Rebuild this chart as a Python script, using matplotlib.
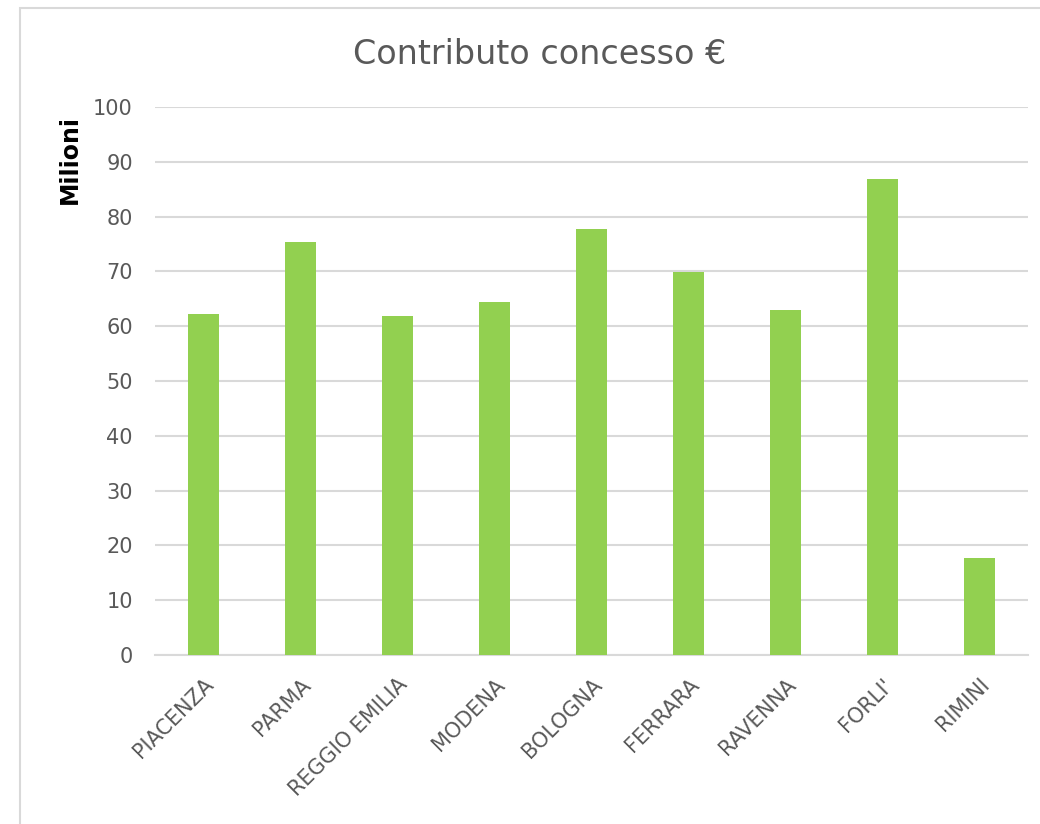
import matplotlib
matplotlib.use("Agg")
import matplotlib.pyplot as plt
from matplotlib.patches import Rectangle

categories = ["PIACENZA", "PARMA", "REGGIO EMILIA", "MODENA", "BOLOGNA",
              "FERRARA", "RAVENNA", "FORLI'", "RIMINI"]
values = [62.2, 75.4, 61.9, 64.4, 77.8, 69.9, 62.9, 86.8, 17.7]
yticks = [0, 10, 20, 30, 40, 50, 60, 70, 80, 90, 100]

plt.rcParams['font.family'] = ['DejaVu Sans']

fig = plt.figure(figsize=(10.4, 8.24), dpi=100)
fig.patch.set_facecolor("white")
# chart border
fig.patches.append(Rectangle((20/1040, -0.1), 1.2, 1.1 - 8/824,
                             transform=fig.transFigure, fill=False,
                             edgecolor="#D9D9D9", linewidth=1.5))

ax = fig.add_axes([155/1040, (824-655)/824, (1028-155)/1040, (655-107)/824])
x = list(range(len(categories)))
ax.bar(x, values, width=0.32, color="#92D050", zorder=3)
ax.set_xlim(-0.5, len(categories) - 0.5)
ax.set_ylim(0, 100)
ax.set_yticks(yticks)
ax.set_yticklabels([str(t) for t in yticks])
ax.set_xticks(x)
ax.set_xticklabels(categories, rotation=45, ha="right", rotation_mode="anchor")
ax.grid(axis="y", color="#D9D9D9", linewidth=1.5, zorder=0)
for s in ["top", "right", "left"]:
    ax.spines[s].set_visible(False)
ax.spines["bottom"].set_color("#D9D9D9")
ax.spines["bottom"].set_linewidth(1.5)
ax.tick_params(axis="both", length=0, labelsize=15, labelcolor="#595959")
ax.tick_params(axis="y", pad=16)
ax.tick_params(axis="x", pad=14)

fig.text(540/1040, (824-55)/824, "Contributo concesso €", ha="center", va="center",
         fontsize=24, color="#595959")
fig.text(70/1040, (824-160)/824, "Milioni", rotation=90, ha="center", va="center",
         fontsize=17, fontweight="bold", color="black")

fig.savefig("out.png", dpi=100, facecolor="white")
